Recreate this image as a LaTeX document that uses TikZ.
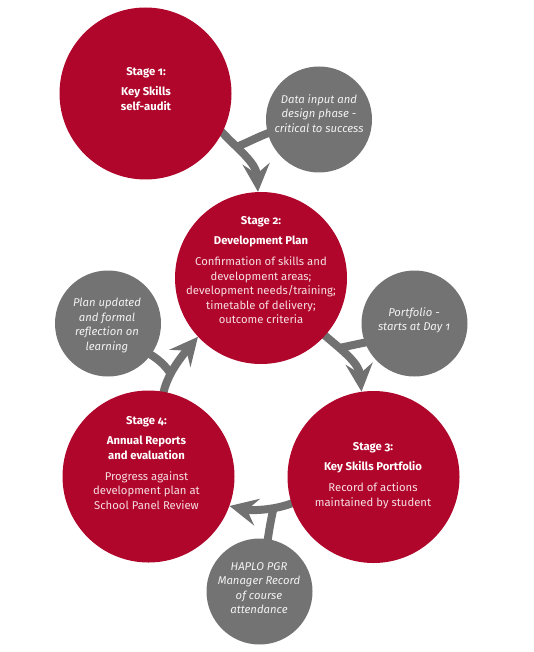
\documentclass[tikz,border=0pt]{standalone}
\usepackage{fontspec}
\setmainfont{Fira Sans}[Numbers=OldStyle]
\usetikzlibrary{arrows.meta}
\definecolor{stagered}{HTML}{B0062B}
\definecolor{notegray}{HTML}{737373}
\definecolor{arrowgray}{HTML}{717171}
\definecolor{bodypink}{HTML}{F7DEE2}
\definecolor{notetextc}{HTML}{F2F2F2}
\pgfdeclarelayer{background}
\pgfsetlayers{background,main}
\begin{document}
\begin{tikzpicture}[x=1pt,y=-1pt,
  stagecirc/.style={circle,fill=stagered,minimum size=172pt,inner sep=0pt},
  notecirc/.style={circle,fill=notegray,minimum size=106pt,inner sep=0pt},
  stagetext/.style={align=center,inner sep=0pt,anchor=north,text=white,font=\fontsize{11.3}{14.6}\selectfont},
  notetext/.style={align=center,inner sep=0pt,anchor=north,text=notetextc,font=\itshape\fontsize{11.3}{14.6}\selectfont},
  flow/.style={draw=arrowgray,line width=8pt,shorten <=-5pt,-{Stealth[length=28pt,width=27pt,inset=10pt]}},
  feed/.style={draw=arrowgray,line width=8pt,shorten <=-5pt},
]
\useasboundingbox (0,0) rectangle (534,652);

% circles
\node[stagecirc] (s1) at (145.5,93.5) {};
\node[notecirc]  (g1) at (319,119.5) {};
\node[stagecirc] (s2) at (261,278) {};
\node[notecirc]  (gr) at (414.5,323.5) {};
\node[notecirc]  (gl) at (108,323.5) {};
\node[stagecirc] (s4) at (148.5,476.5) {};
\node[stagecirc] (s3) at (373.5,477) {};
\node[notecirc]  (gb) at (259.5,591.5) {};

% texts
\node[stagetext] (t1) at (146,67) {\textbf{Stage 1:}\\[6pt]\textbf{Key Skills}\\\textbf{self-audit}};
\node[stagetext] (t2) at (261,216) {\textbf{Stage 2:}\\[6pt]\textbf{Development Plan}\\[6pt]{\color{bodypink}Confirmation of skills and}\\{\color{bodypink}development areas;}\\{\color{bodypink}development needs/training;}\\{\color{bodypink}timetable of delivery;}\\{\color{bodypink}outcome criteria}};
\node[stagetext] (t3) at (373,442) {\textbf{Stage 3:}\\[6pt]\textbf{Key Skills Portfolio}\\[6pt]{\color{bodypink}Record of actions}\\{\color{bodypink}maintained by student}};
\node[stagetext] (t4) at (146.5,416) {\textbf{Stage 4:}\\[6pt]\textbf{Annual Reports}\\\textbf{and evaluation}\\[6pt]{\color{bodypink}Progress against}\\{\color{bodypink}development plan at}\\{\color{bodypink}School Panel Review}};
\node[notetext] (n1) at (319,94) {Data input and\\design phase -\\critical to success};
\node[notetext] (n2) at (414,307) {Portfolio -\\starts at Day 1};
\node[notetext] (n3) at (107,298) {Plan updated\\and formal\\reflection on\\learning};
\node[notetext] (n4) at (259,562) {HAPLO PGR\\Manager Record\\of course\\attendance};

% connectors
\begin{pgfonlayer}{background}
\draw[flow] (s1.-27) .. controls (237,149) and (256,162) .. (s2.92) coordinate[pos=0.3] (j1);
\draw[feed] (g1.195) .. controls (255,138) and (247,143) .. (j1);

\draw[flow] (s2.-42) .. controls (340,349) and (359,362) .. (s3.98) coordinate[pos=0.3] (j2);
\draw[feed] (gr.201) .. controls (357,344) and (349,346) .. (j2);

\draw[flow] (s3.198) .. controls (278,510) and (252,511) .. (s4.-20) coordinate[pos=0.35] (j3);
\draw[feed] (gb.81) .. controls (270,525) .. (j3);

\draw[flow] (s4.80) .. controls (166,375) and (182,356) .. (s2.223) coordinate[pos=0.35] (j4);
\draw[feed] (gl.-36) .. controls (158,359) and (164,364) .. (j4);
\end{pgfonlayer}
\end{tikzpicture}
\end{document}
